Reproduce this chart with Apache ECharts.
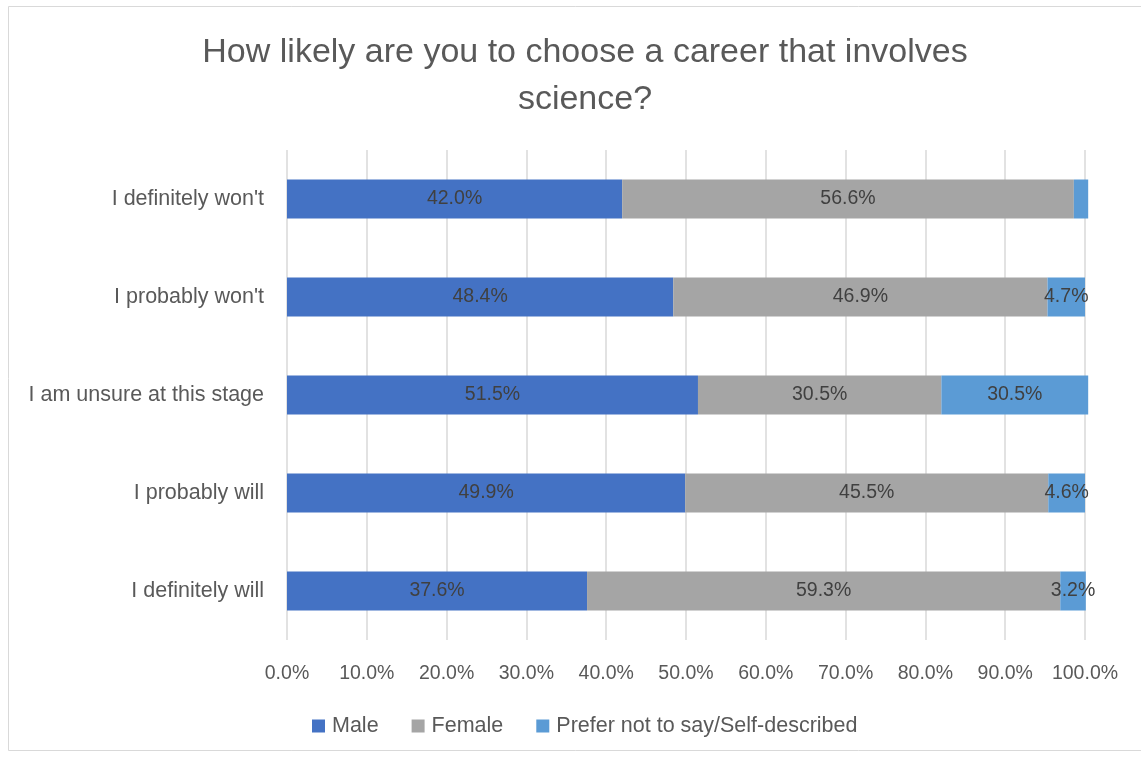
<!DOCTYPE html>
<html>
<head>
<meta charset="utf-8">
<script src="https://cdn.jsdelivr.net/npm/echarts@6/dist/echarts.min.js"></script>
<style>
  html, body { margin: 0; padding: 0; background: #fff; }
  #main { width: 1141px; height: 758px; }
</style>
</head>
<body>
<div id="main"></div>
<script>
// answers, top to bottom
const categories = ["I definitely won't", "I probably won't", 'I am unsure at this stage', 'I probably will', 'I definitely will']
const male = [42.0, 48.4, 51.5, 49.9, 37.6]
const female = [56.6, 46.9, 30.5, 45.5, 59.3]
const preferNot = [1.8, 4.7, 18.4, 4.6, 3.2]
// labels as printed on the original (third row label differs from bar length)
const maleLabels = ['42.0%', '48.4%', '51.5%', '49.9%', '37.6%']
const femaleLabels = ['56.6%', '46.9%', '30.5%', '45.5%', '59.3%']
const preferLabels = ['', '4.7%', '30.5%', '4.6%', '3.2%']
const xTicks = [0, 10, 20, 30, 40, 50, 60, 70, 80, 90, 100]

const fontFamily = 'Liberation Sans'
const textColor = '#595959'

const myChart = echarts.init(document.getElementById('main'))

function seriesOf (name, data, labels, color) {
  return {
    name: name,
    type: 'bar',
    stack: 'total',
    data: data,
    barWidth: 39,
    clip: false,
    itemStyle: { color: color },
    label: {
      show: true,
      position: 'inside',
      color: '#404040',
      fontSize: 19.5,
      fontFamily: fontFamily,
      formatter: function (p) { return labels[p.dataIndex] }
    }
  }
}

const option = {
  backgroundColor: '#fff',
  animation: false,
  title: {
    text: 'How likely are you to choose a career that involves\nscience?',
    left: 580,
    top: 24,
    textAlign: 'center',
    textStyle: {
      color: textColor,
      fontSize: 34,
      fontWeight: 'normal',
      fontFamily: fontFamily,
      lineHeight: 47
    }
  },
  graphic: [{
    type: 'rect',
    shape: { x: 8.5, y: 6.5, width: 1140, height: 744 },
    style: { fill: 'none', stroke: '#d9d9d9', lineWidth: 1 }
  }],
  legend: {
    top: 710,
    left: 307,
    itemWidth: 13,
    itemHeight: 13,
    itemGap: 33,
    icon: 'rect',
    textStyle: { color: textColor, fontSize: 21.5, fontFamily: fontFamily, padding: [0, 0, 0, 2] }
  },
  grid: {
    left: 287,
    right: 56,
    top: 150,
    bottom: 118
  },
  xAxis: {
    type: 'value',
    min: 0,
    max: 100,
    interval: 10,
    axisLine: { show: false },
    axisTick: { show: false },
    splitLine: { lineStyle: { color: '#d9d9d9', width: 1.5 } },
    axisLabel: {
      color: textColor,
      fontSize: 19.5,
      fontFamily: fontFamily,
      margin: 24,
      formatter: function (v) { return xTicks.indexOf(v) >= 0 ? v.toFixed(1) + '%' : '' }
    }
  },
  yAxis: {
    type: 'category',
    inverse: true,
    data: categories,
    axisLine: { show: false },
    axisTick: { show: false },
    axisLabel: {
      color: textColor,
      fontSize: 21.5,
      fontFamily: fontFamily,
      margin: 23
    }
  },
  series: [
    seriesOf('Male', male, maleLabels, '#4472C4'),
    seriesOf('Female', female, femaleLabels, '#A5A5A5'),
    seriesOf('Prefer not to say/Self-described', preferNot, preferLabels, '#5B9BD5')
  ]
}

myChart.setOption(option)
</script>
</body>
</html>
